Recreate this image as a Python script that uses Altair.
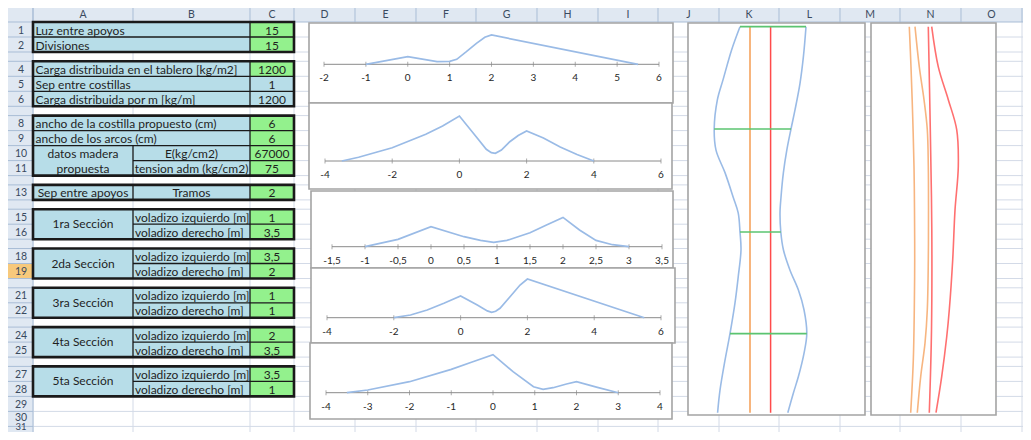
import altair as alt
import pandas as pd

# ------------------------------------------------------------------
# Values
# ------------------------------------------------------------------
COLUMN_LETTERS = list("ABCDEFGHIJKLMNO")
ROW_NUMBERS = list(range(1, 32))
THIN_ROWS = [3, 7, 12, 14, 17, 20, 23, 26]
SELECTED_ROW = 19

SPAN_ROWS = [1, 2, 4, 5, 6, 8, 9]
SPAN_TEXTS = ["Luz entre apoyos", "Divisiones",
              "Carga distribuida en el tablero [kg/m2]", "Sep entre costillas",
              "Carga distribuida por m [kg/m]",
              "ancho de la costilla propuesto (cm)", "ancho de los arcos (cm)"]
A_CENTER_ROWS = [10, 11, 13]
A_CENTER_TEXTS = ["datos madera", "propuesta", "Sep entre apoyos"]
SECTION_ROWS = [15, 18, 21, 24, 27]
SECTION_TEXTS = ["1ra Sección", "2da Sección", "3ra Sección", "4ta Sección", "5ta Sección"]
B_CENTER_ROWS = [10, 11, 13]
B_CENTER_TEXTS = ["E(kg/cm2)", "tension adm (kg/cm2)", "Tramos"]
B_LEFT_TEXTS = ["voladizo izquierdo [m]", "voladizo derecho [m]"]

C_ROWS = [1, 2, 4, 5, 6, 8, 9, 10, 11, 13, 15, 16, 18, 19, 21, 22, 24, 25, 27, 28]
C_VALUES = ["15", "15", "1200", "1", "1200", "6", "6", "67000", "75", "2",
            "1", "3,5", "3,5", "2", "1", "1", "2", "3,5", "3,5", "1"]
C_INPUT = [True, True, True, False, False, True, True, True, True, True,
           True, True, True, True, True, True, True, True, True, True]
BLOCKS = [(1, 2), (4, 6), (8, 11), (13, 13), (15, 16), (18, 19), (21, 22), (24, 25), (27, 28)]

# five section diagrams (x position, value)
S1_X = [-1, 0, 0.7, 1, 1.17, 1.4, 1.64, 1.84, 2, 5.5]
S1_Y = [0, 7.6, 2.6, 3.0, 5, 12.6, 21, 27, 29.3, 0]
S2_X = [-3.5, -3, -2, -1, -0.5, 0, 0.5, 0.8, 0.95, 1.07, 1.25, 1.5, 1.75, 2, 2.5, 3, 3.5, 4]
S2_Y = [0, 3.7, 13.3, 26.7, 35, 45, 24.2, 11.7, 8.3, 7.7, 11, 19.3, 25.5, 30, 23, 14, 6.5, 0]
S3_X = [-1, -0.5, 0, 0.5, 0.75, 0.95, 1.15, 1.25, 1.5, 1.75, 2, 2.25, 2.5, 2.75, 3]
S3_Y = [0, 7.3, 20, 10, 6.3, 4.3, 6.3, 8.4, 14, 21.7, 29.3, 16.7, 6.3, 2, 0]
S4_X = [-2, -1.5, -1, -0.5, 0, 0.5, 0.8, 0.93, 1.05, 1.18, 1.48, 1.78, 2, 5.5]
S4_Y = [0, 2.7, 7.7, 14.4, 21.7, 12.7, 6.8, 5.4, 6.4, 9.4, 21, 32.7, 38.7, 0]
S5_X = [-3.5, -3, -2, -1, -0.5, 0, 0.48, 0.97, 1.2, 1.44, 1.76, 2, 2.5, 3]
S5_Y = [0, 2.7, 11, 23.3, 30.7, 38, 21, 6, 3.4, 5, 8.7, 11, 5.3, 0]

S1_TICKS = [-2, -1, 0, 1, 2, 3, 4, 5, 6]
S1_LABELS = ["-2", "-1", "0", "1", "2", "3", "4", "5", "6"]
S2_TICKS = [-4, -2, 0, 2, 4, 6]
S2_LABELS = ["-4", "-2", "0", "2", "4", "6"]
S3_TICKS = [-1.5, -1, -0.5, 0, 0.5, 1, 1.5, 2, 2.5, 3, 3.5]
S3_LABELS = ["-1,5", "-1", "-0,5", "0", "0,5", "1", "1,5", "2", "2,5", "3", "3,5"]
S4_TICKS = [-4, -2, 0, 2, 4, 6]
S4_LABELS = ["-4", "-2", "0", "2", "4", "6"]
S5_TICKS = [-4, -3, -2, -1, 0, 1, 2, 3, 4]
S5_LABELS = ["-4", "-3", "-2", "-1", "0", "1", "2", "3", "4"]

# plan view (K) : position along the bridge s, half widths
K_LEFT_S = [0, 3.4, 7.8, 10.7, 15, 18.1, 21.4, 25, 27.3, 30.1, 32.7, 36.7, 40.5, 45, 48.9, 53.3, 56.6]
K_LEFT_X = [-18, -22.2, -26.5, -29.3, -30.9, -30, -25.5, -21.4, -18.9, -18, -17.5, -18.9, -20.5, -23, -25.5, -28, -29.2]
K_RIGHT_S = [0, 4.4, 8.3, 12.2, 15, 18.1, 21.4, 25, 27.3, 30.1, 32.7, 35.7, 38.6, 41.5, 45, 47.9, 51.3, 53.7, 56.6]
K_RIGHT_X = [15, 13.7, 12, 9.5, 7.5, 5.4, 3.7, 2.5, 2, 2.4, 3.7, 7, 11.2, 14, 15.4, 14, 11.2, 8.7, 5.9]
K_ORANGE_X = -13
K_RED_X = -2.7
K_END_S = 56.6
K_GREEN_S = [0, 15, 30.1, 45]
K_GREEN_L = [-18, -30.9, -18, -23]
K_GREEN_R = [15, 7.5, 2.4, 15.4]

# elevation (N)
N_O1_S = [0, 5.9, 13.2, 20.5, 26.9, 34.2, 41.5, 48.9, 56.6]
N_O1_X = [-12.1, -11.25, -10.4, -9.75, -9.5, -9.4, -9.6, -10.1, -11.4]
N_O2_S = [0, 5.9, 10.7, 15.1, 20.5, 26.9, 34.2, 41.5, 46.4, 51.3, 56.6]
N_O2_X = [-9.25, -7.1, -4.75, -3.1, -2.6, -2.5, -2.6, -3.1, -4.25, -6.4, -8.1]
N_R1_S = [0, 15.1, 29.8, 44.5, 56.6]
N_R1_X = [-2.6, -1.6, -0.85, -1, -2.1]
N_R2_S = [0, 5.9, 10.7, 15.1, 20.5, 26.9, 34.2, 41.5, 45.5, 51.3, 56.6]
N_R2_X = [-0.9, 2.4, 7.4, 11.6, 12.4, 10.75, 9.6, 7.9, 6.6, 4.1, 1.25]

# ------------------------------------------------------------------
# Layout (pixels of the screenshot) and styles
# ------------------------------------------------------------------
W, H = 1015, 424
OX, OY = 8, 8
COL_EDGES = [0, 33, 133, 250, 294, 355, 416, 476, 537, 598, 658, 719, 779, 840, 900, 961, 1022, 1083]
HEADER_TOP, HEADER_BOTTOM = 0, 22
ROW_H, THIN_H = 15.0, 9.3
ROWNUM_X = 21
ROWNUM_SIZE = 10.5
TEXT_DROP = 1.0          # Excel puts cell text slightly low in the cell
HEADER_TEXT_Y = 15
# the last two row numbers sit against the bottom edge of the picture
ROWNUM_Y_OVERRIDE = {30: 417.6, 31: 427.3}
ROWNUM_SIZE_OVERRIDE = {31: 9.5}

SMALL_BOXES = [(309, 23, 673, 103), (309, 103, 672, 189), (311, 191, 673, 268),
               (311, 268, 675, 343), (310, 343, 672, 419)]
SMALL_XRANGE = [(324, 659), (325, 661), (332, 662), (327, 661), (326, 660)]
SMALL_AXIS_Y = [64.3, 161, 246.7, 317.7, 392.7]
BIG_BOXES = [(688, 23, 865, 415), (871, 23, 996, 415)]
K_XRANGE = (688, 864)
N_XRANGE = (871, 996)
S_TOP_PX, S_PX_PER_UNIT = 26.7, 6.82

FONT = "Lato"
CELL_FONT_SIZE = 12
BLUE_FILL = "#B7DDE8"
GREEN_FILL = "#93F18D"
HEADER_BG = "#E0E8F2"
HEADER_LINE = "#A9BDD6"
HEADER_TEXT = "#3A4A60"
GRID = "#D3DAE7"
DARK = "#1A1A1A"
TEXT = "#1F1F1F"
SEL = "#F7C97C"
BOX_STROKE = "#A4A4A4"
LINE_BLUE = "#9ABBE6"
AXIS_GREY = "#8A8A8A"
ORANGE = "#F49C52"
RED = "#FF4B4B"
GREEN_LINE = "#5BC470"
N_ORANGE = "#F7B580"
N_RED = "#FF7070"

# ------------------------------------------------------------------
# Build sheet geometry
# ------------------------------------------------------------------
row_top, row_bot = {}, {}
y = HEADER_BOTTOM
for r in ROW_NUMBERS:
    h = THIN_H if r in THIN_ROWS else ROW_H
    row_top[r], row_bot[r] = y, y + h
    y += h
SHEET_BOTTOM = y
SHEET_RIGHT = COL_EDGES[-1]
XA0, XA1, XB1, XC1 = COL_EDGES[1], COL_EDGES[2], COL_EDGES[3], COL_EDGES[4]


def rc(r):
    return (row_top[r] + row_bot[r]) / 2


PXS = alt.Scale(domain=[OX, OX + W], range=[0, W], nice=False, zero=False)
PYS = alt.Scale(domain=[OY, OY + H], range=[0, H], nice=False, zero=False)


def rect_layer(rows, **mk):
    df = pd.DataFrame(rows, columns=["x0", "x1", "y0", "y1", "fill"])
    return alt.Chart(df).mark_rect(clip=True, **mk).encode(
        x=alt.X("x0:Q", scale=PXS, axis=None), x2="x1:Q",
        y=alt.Y("y0:Q", scale=PYS, axis=None), y2="y1:Q",
        fill=alt.Fill("fill:N", scale=None))


def rule_layer(rows, color, width):
    df = pd.DataFrame(rows, columns=["x0", "x1", "y0", "y1"])
    return alt.Chart(df).mark_rule(clip=True, color=color, strokeWidth=width).encode(
        x=alt.X("x0:Q", scale=PXS, axis=None), x2="x1:Q",
        y=alt.Y("y0:Q", scale=PYS, axis=None), y2="y1:Q")


def text_layer(rows, align, size, color, **mk):
    df = pd.DataFrame(rows, columns=["x", "y", "t"])
    return alt.Chart(df).mark_text(clip=True, align=align, baseline="middle", font=FONT,
                                   fontSize=size, color=color, **mk).encode(
        x=alt.X("x:Q", scale=PXS, axis=None), y=alt.Y("y:Q", scale=PYS, axis=None),
        text="t:N")


sheet = []
# grid
grid = [(e, e, HEADER_BOTTOM, SHEET_BOTTOM) for e in COL_EDGES[1:]]
grid += [(XA0, SHEET_RIGHT, row_bot[r], row_bot[r]) for r in ROW_NUMBERS]
sheet.append(rect_layer([(XA0, SHEET_RIGHT, HEADER_BOTTOM, SHEET_BOTTOM, "#FFFFFF")]))
sheet.append(rule_layer(grid, GRID, 1))

# headers
hdr = [(0, SHEET_RIGHT, HEADER_TOP, HEADER_BOTTOM, HEADER_BG),
       (0, XA0, HEADER_BOTTOM, SHEET_BOTTOM, HEADER_BG),
       (0, XA0, row_top[SELECTED_ROW], row_bot[SELECTED_ROW], SEL)]
sheet.append(rect_layer(hdr))
hl = [(e, e, HEADER_TOP, HEADER_BOTTOM) for e in COL_EDGES[1:]]
hl += [(0, XA0, row_bot[r], row_bot[r]) for r in ROW_NUMBERS]
hl += [(0, SHEET_RIGHT, HEADER_BOTTOM, HEADER_BOTTOM), (XA0, XA0, HEADER_TOP, SHEET_BOTTOM)]
sheet.append(rule_layer(hl, HEADER_LINE, 1))
letters = [((COL_EDGES[i + 1] + COL_EDGES[i + 2]) / 2, HEADER_TEXT_Y, c)
           for i, c in enumerate(COLUMN_LETTERS)]
sheet.append(text_layer(letters, "center", 10.5, HEADER_TEXT))
nums = [(ROWNUM_X, ROWNUM_Y_OVERRIDE.get(r, rc(r) + TEXT_DROP), str(r))
        for r in ROW_NUMBERS if r not in THIN_ROWS and r not in ROWNUM_SIZE_OVERRIDE]
sheet.append(text_layer(nums, "center", ROWNUM_SIZE, HEADER_TEXT))
for r, sz in ROWNUM_SIZE_OVERRIDE.items():
    sheet.append(text_layer([(ROWNUM_X, ROWNUM_Y_OVERRIDE.get(r, rc(r)), str(r))],
                            "center", sz, HEADER_TEXT))

# table fills
fills = []
for a, b in BLOCKS:
    fills.append((XA0, XB1, row_top[a], row_bot[b], BLUE_FILL))
for r, inp in zip(C_ROWS, C_INPUT):
    fills.append((XB1, XC1, row_top[r], row_bot[r], GREEN_FILL if inp else BLUE_FILL))
sheet.append(rect_layer(fills))

merged_a = set(SECTION_ROWS + [10])
inner = []
for a, b in BLOCKS:
    for r in range(a, b):
        x_start = XA1 if r in merged_a else XA0
        inner.append((x_start, XC1, row_bot[r], row_bot[r]))
    inner.append((XB1, XB1, row_top[a], row_bot[b]))
    if a >= 13:
        inner.append((XA1, XA1, row_top[a], row_bot[b]))
inner.append((XA1, XA1, row_top[10], row_bot[11]))
sheet.append(rule_layer(inner, DARK, 1.3))
outline = [(XA0, XC1, row_top[a], row_bot[b], "transparent") for a, b in BLOCKS]
sheet.append(rect_layer(outline, stroke=DARK, strokeWidth=2.6))

# table texts
sheet.append(text_layer([(XA0 + 2.5, rc(r) + TEXT_DROP, t) for r, t in zip(SPAN_ROWS, SPAN_TEXTS)],
                        "left", CELL_FONT_SIZE, TEXT))
acen = [((XA0 + XA1) / 2, rc(r) + TEXT_DROP, t) for r, t in zip(A_CENTER_ROWS, A_CENTER_TEXTS)]
acen += [((XA0 + XA1) / 2, row_bot[r], t) for r, t in zip(SECTION_ROWS, SECTION_TEXTS)]
sheet.append(text_layer(acen, "center", CELL_FONT_SIZE, TEXT))
sheet.append(text_layer([((XA1 + XB1) / 2, rc(r) + TEXT_DROP, t)
                         for r, t in zip(B_CENTER_ROWS, B_CENTER_TEXTS)],
                        "center", CELL_FONT_SIZE, TEXT))
bl = []
for r in SECTION_ROWS:
    bl.append((XA1 + 2, rc(r) + TEXT_DROP, B_LEFT_TEXTS[0]))
    bl.append((XA1 + 2, rc(r + 1) + TEXT_DROP, B_LEFT_TEXTS[1]))
sheet.append(text_layer(bl, "left", CELL_FONT_SIZE, TEXT, limit=XB1 - XA1, ellipsis=" "))
sheet.append(text_layer([((XB1 + XC1) / 2, rc(r) + TEXT_DROP, v) for r, v in zip(C_ROWS, C_VALUES)],
                        "center", CELL_FONT_SIZE, TEXT))

# chart frames
frames = [(x0, x1, y0, y1, "#FFFFFF") for (x0, y0, x1, y1) in SMALL_BOXES + BIG_BOXES]
sheet.append(rect_layer(frames, stroke=BOX_STROKE, strokeWidth=1.6))

sheet_layer = alt.layer(*sheet)


# ------------------------------------------------------------------
# Small diagrams
# ------------------------------------------------------------------
def small_chart(xs, ys, ticks, labels, xrange_px, axis_px):
    xsc = alt.Scale(domain=[ticks[0], ticks[-1]],
                    range=[xrange_px[0] - OX, xrange_px[1] - OX], nice=False, zero=False)
    ysc = alt.Scale(domain=[0, 50], range=[axis_px - OY, axis_px - OY - 50], nice=False, zero=False)
    X = lambda f: alt.X(f, scale=xsc, axis=None)
    Y = lambda f: alt.Y(f, scale=ysc, axis=None)
    axis_df = pd.DataFrame({"a": [ticks[0]], "b": [ticks[-1]], "v": [0]})
    axis = alt.Chart(axis_df).mark_rule(color=AXIS_GREY, strokeWidth=1).encode(
        x=X("a:Q"), x2="b:Q", y=Y("v:Q"))
    tdf = pd.DataFrame({"t": ticks, "v": [0] * len(ticks), "lab": labels})
    tick = alt.Chart(tdf).mark_tick(color=AXIS_GREY, orient="vertical", size=5,
                                    thickness=1).encode(x=X("t:Q"), y=Y("v:Q"))
    txt = alt.Chart(tdf).mark_text(font=FONT, fontSize=10, color="#262626", dy=14,
                                   baseline="middle").encode(
        x=X("t:Q"), y=Y("v:Q"), text="lab:N")
    ldf = pd.DataFrame({"x": xs, "y": ys})
    line = alt.Chart(ldf).mark_line(color=LINE_BLUE, strokeWidth=1.7).encode(
        x=X("x:Q"), y=Y("y:Q"))
    return alt.layer(axis, tick, line, txt)


small = [
    small_chart(S1_X, S1_Y, S1_TICKS, S1_LABELS, SMALL_XRANGE[0], SMALL_AXIS_Y[0]),
    small_chart(S2_X, S2_Y, S2_TICKS, S2_LABELS, SMALL_XRANGE[1], SMALL_AXIS_Y[1]),
    small_chart(S3_X, S3_Y, S3_TICKS, S3_LABELS, SMALL_XRANGE[2], SMALL_AXIS_Y[2]),
    small_chart(S4_X, S4_Y, S4_TICKS, S4_LABELS, SMALL_XRANGE[3], SMALL_AXIS_Y[3]),
    small_chart(S5_X, S5_Y, S5_TICKS, S5_LABELS, SMALL_XRANGE[4], SMALL_AXIS_Y[4]),
]

# ------------------------------------------------------------------
# Tall diagrams
# ------------------------------------------------------------------
SSC = alt.Scale(domain=[0, 57], range=[S_TOP_PX - OY, S_TOP_PX - OY + 57 * S_PX_PER_UNIT],
                nice=False, zero=False)


def curve(xs, ss, color, xsc, width=1.6):
    df = pd.DataFrame({"x": xs, "s": ss})
    return alt.Chart(df).mark_line(color=color, strokeWidth=width,
                                   interpolate="catmull-rom").encode(
        x=alt.X("x:Q", scale=xsc, axis=None), y=alt.Y("s:Q", scale=SSC, axis=None),
        order="s:Q")


KSC = alt.Scale(domain=[-44, 44], range=[K_XRANGE[0] - OX, K_XRANGE[1] - OX], nice=False, zero=False)
NSC = alt.Scale(domain=[-31.25, 31.25], range=[N_XRANGE[0] - OX, N_XRANGE[1] - OX], nice=False, zero=False)

gdf = pd.DataFrame({"s": K_GREEN_S, "l": K_GREEN_L, "r": K_GREEN_R})
green = alt.Chart(gdf).mark_rule(color=GREEN_LINE, strokeWidth=1.7).encode(
    x=alt.X("l:Q", scale=KSC, axis=None), x2="r:Q", y=alt.Y("s:Q", scale=SSC, axis=None))
vdf = pd.DataFrame({"x": [K_ORANGE_X, K_RED_X], "s0": [0, 0], "s1": [K_END_S, K_END_S],
                    "c": [ORANGE, RED]})
verts = alt.Chart(vdf).mark_rule(strokeWidth=1.5).encode(
    x=alt.X("x:Q", scale=KSC, axis=None), y=alt.Y("s0:Q", scale=SSC, axis=None), y2="s1:Q",
    color=alt.Color("c:N", scale=None))
k_chart = alt.layer(
    curve(K_LEFT_X, K_LEFT_S, LINE_BLUE, KSC),
    curve(K_RIGHT_X, K_RIGHT_S, LINE_BLUE, KSC),
    verts, green)

n_chart = alt.layer(
    curve(N_O1_X, N_O1_S, N_ORANGE, NSC),
    curve(N_O2_X, N_O2_S, N_ORANGE, NSC),
    curve(N_R1_X, N_R1_S, N_RED, NSC),
    curve(N_R2_X, N_R2_S, N_RED, NSC))

chart = alt.layer(sheet_layer, *small, k_chart, n_chart).resolve_scale(
    x="independent", y="independent", color="independent", fill="independent"
).properties(
    width=W, height=H, padding=0, autosize=alt.AutoSizeParams(type="none")
).configure_view(strokeWidth=0)

chart.save("out.html", embed_options={"renderer": "svg", "actions": False})
